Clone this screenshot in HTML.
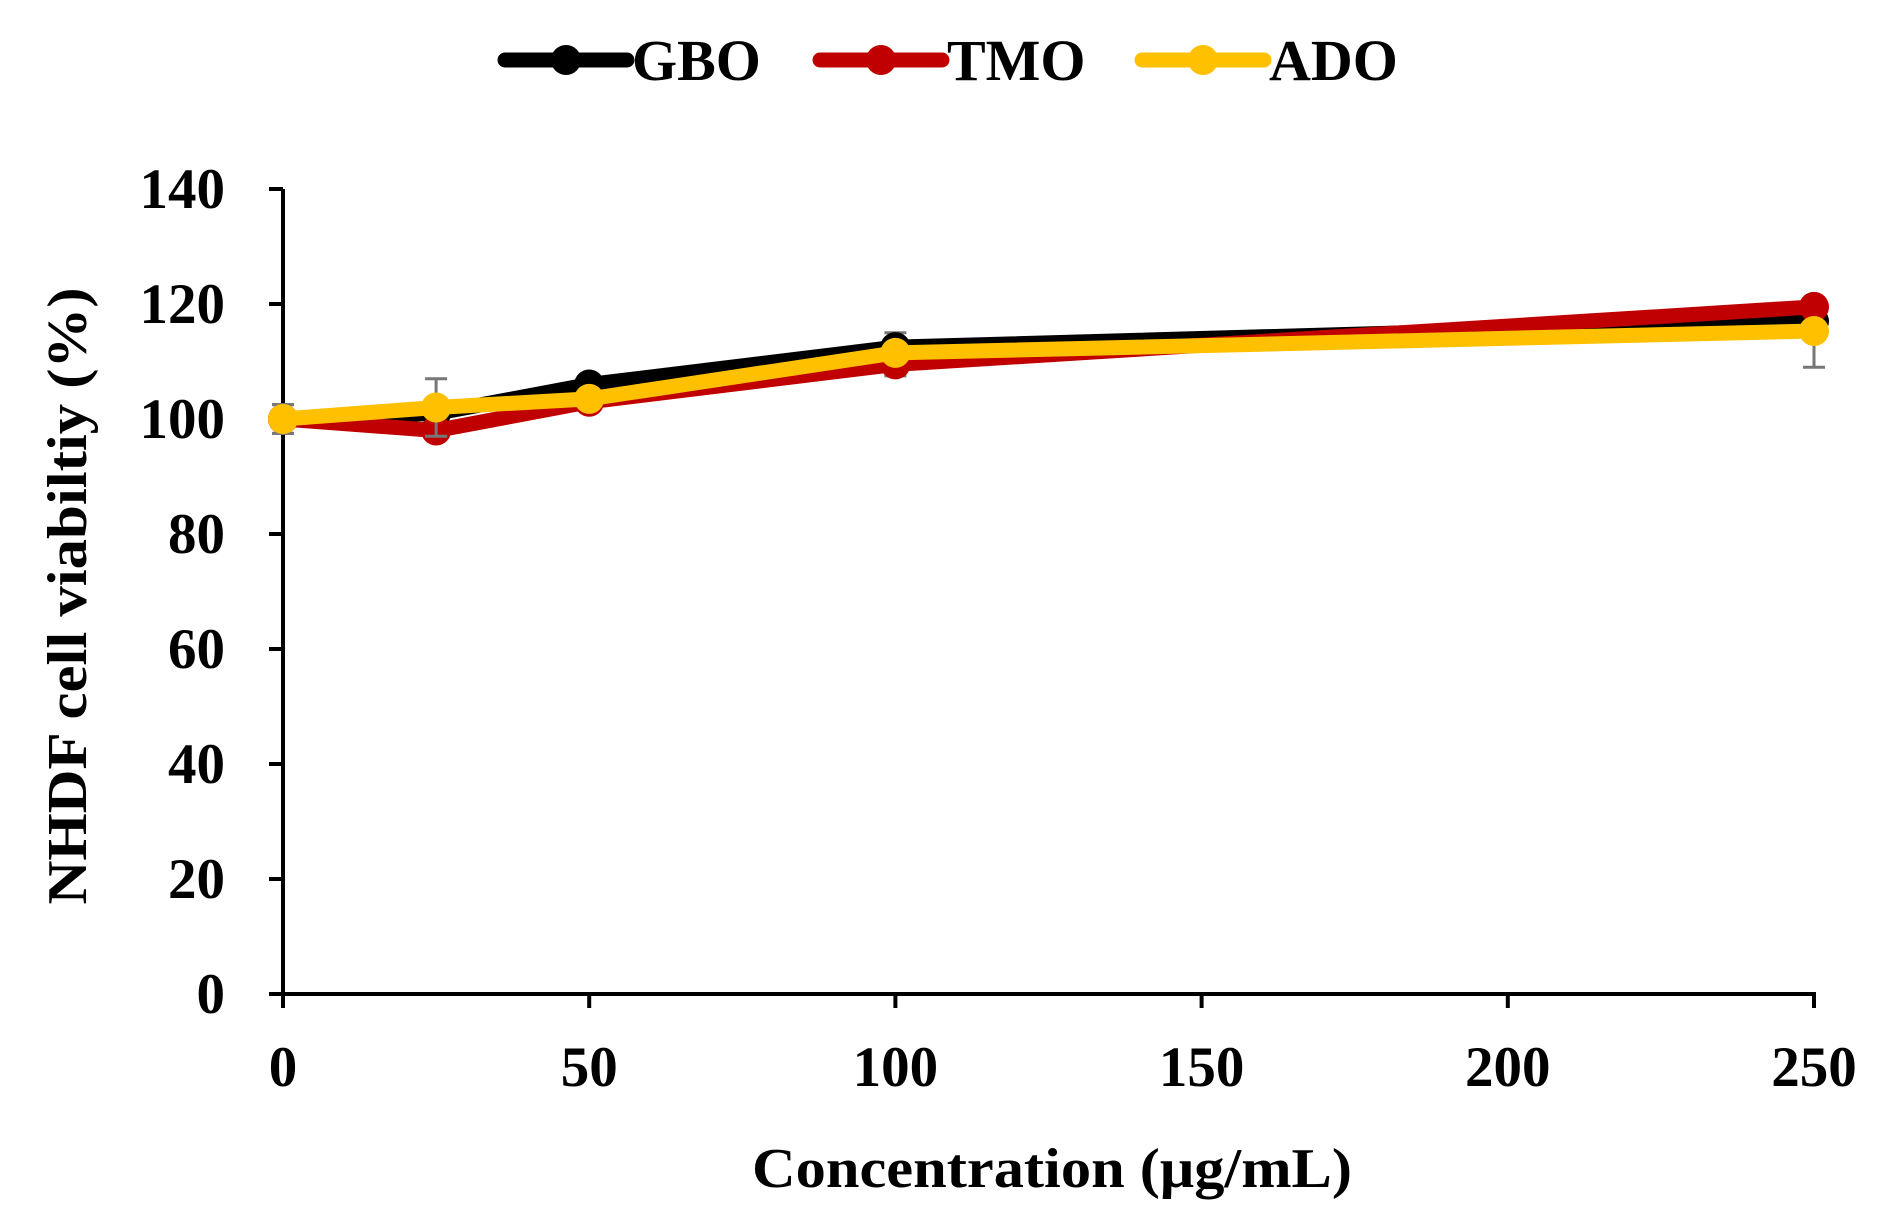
<!DOCTYPE html>
<html><head><meta charset="utf-8"><style>
html,body{margin:0;padding:0;background:#fff;}
svg{display:block;font-family:"Liberation Serif",serif;font-weight:bold;}
</style></head><body>
<svg id="chart" width="1886" height="1229" viewBox="0 0 1886 1229" xmlns="http://www.w3.org/2000/svg"></svg>
<script>
const xValues = [0, 25, 50, 100, 250];
const seriesNames = ["GBO", "TMO", "ADO"];
const seriesColors = ["#000000", "#c00000", "#ffc000"];
const gboValues = [100, 101, 106, 112.5, 117];
const tmoValues = [100, 98, 103, 109.5, 119.5];
const adoValues = [100, 102, 103.5, 111.5, 115.3];
const gboErrUp = [2.5, 0, 1.5, 2.5, 0];
const gboErrDown = [2.5, 0, 1.5, 2.5, 0];
const tmoErrUp = [0, 1.5, 1, 2, 0];
const tmoErrDown = [0, 1.5, 1, 2, 0];
const adoErrUp = [2.5, 5, 1, 1.5, 0];
const adoErrDown = [2.5, 5, 1, 1.5, 6.3];
const xTicks = [0, 50, 100, 150, 200, 250];
const yTicks = [0, 20, 40, 60, 80, 100, 120, 140];

const NS = "http://www.w3.org/2000/svg";
const svg = document.getElementById("chart");
const X0 = 283, X1 = 1814, Y0 = 994, Y1 = 189;
const xs = v => X0 + (v - 0) / 250 * (X1 - X0);
const ys = v => Y0 - v / 140 * (Y0 - Y1);
function mk(tag, attrs, parent) {
  const e = document.createElementNS(NS, tag);
  for (const k in attrs) e.setAttribute(k, attrs[k]);
  (parent || svg).appendChild(e);
  return e;
}
let el = mk("line", {x1: X0, y1: Y1, x2: X0, y2: Y0, stroke: "#000", "stroke-width": 4});


el = mk("line", {x1: X0 - 2, y1: Y0, x2: X1 + 2, y2: Y0, stroke: "#000", "stroke-width": 4});


yTicks.forEach(t => {
  const y = ys(t);
  let l = mk("line", {x1: X0 - 14, y1: y, x2: X0, y2: y, stroke: "#000", "stroke-width": 4});
  
  
  let tx = mk("text", {x: X0 - 58, y: y + 19, "text-anchor": "end", "font-size": 57});
  tx.textContent = t;
  
  
});
xTicks.forEach(t => {
  const x = xs(t);
  let l = mk("line", {x1: x, y1: Y0, x2: x, y2: Y0 + 14, stroke: "#000", "stroke-width": 4});
  
  
  let tx = mk("text", {x: x, y: Y0 + 92, "text-anchor": "middle", "font-size": 57});
  tx.textContent = t;
  
  
});
let xt = mk("text", {x: 1052, y: 1187, "text-anchor": "middle", "font-size": 56, textLength: 600, lengthAdjust: "spacingAndGlyphs"});
xt.textContent = "Concentration (μg/mL)";


let yt = mk("text", {x: 0, y: 0, "text-anchor": "middle", "font-size": 56, textLength: 617, lengthAdjust: "spacingAndGlyphs", transform: "translate(86,596) rotate(-90)"});
yt.textContent = "NHDF cell viabiltiy (%)";



const allVals = [gboValues, tmoValues, adoValues];
const allUp = [gboErrUp, tmoErrUp, adoErrUp];
const allDown = [gboErrDown, tmoErrDown, adoErrDown];
allVals.forEach((vals, si) => {
  const g = mk("g", {});
  
  
  vals.forEach((v, i) => {
    const up = allUp[si][i], dn = allDown[si][i];
    const x = xs(xValues[i]);
    let d = "";
    if (up > 0) d += `M${x},${ys(v)}V${ys(v + up)}M${x - 11},${ys(v + up)}H${x + 11}`;
    if (dn > 0) d += `M${x},${ys(v)}V${ys(v - dn)}M${x - 11},${ys(v - dn)}H${x + 11}`;
    if (d) {
      let eb = mk("path", {d: d, stroke: "#777", "stroke-width": 3, fill: "none"}, g);
      
      
    }
  });
  let p = mk("polyline", {points: vals.map((v, i) => xs(xValues[i]) + "," + ys(v)).join(" "), fill: "none", stroke: seriesColors[si], "stroke-width": 15, "stroke-linejoin": "round"}, g);
  
  
  vals.forEach((v, i) => {
    let c = mk("circle", {cx: xs(xValues[i]), cy: ys(v), r: 15, fill: seriesColors[si]}, g);
    
    
  });
});
const legX = [505, 820, 1142];
seriesNames.forEach((n, i) => {
  const g = mk("g", {});
  
  
  mk("line", {x1: legX[i], y1: 60, x2: legX[i] + 122, y2: 60, stroke: seriesColors[i], "stroke-width": 15, "stroke-linecap": "round"}, g);
  mk("circle", {cx: legX[i] + 61, cy: 60, r: 15, fill: seriesColors[i]}, g);
  const t = mk("text", {x: legX[i] + 127, y: 80, "font-size": 58}, g);
  t.textContent = n;
});
</script>
</body></html>
